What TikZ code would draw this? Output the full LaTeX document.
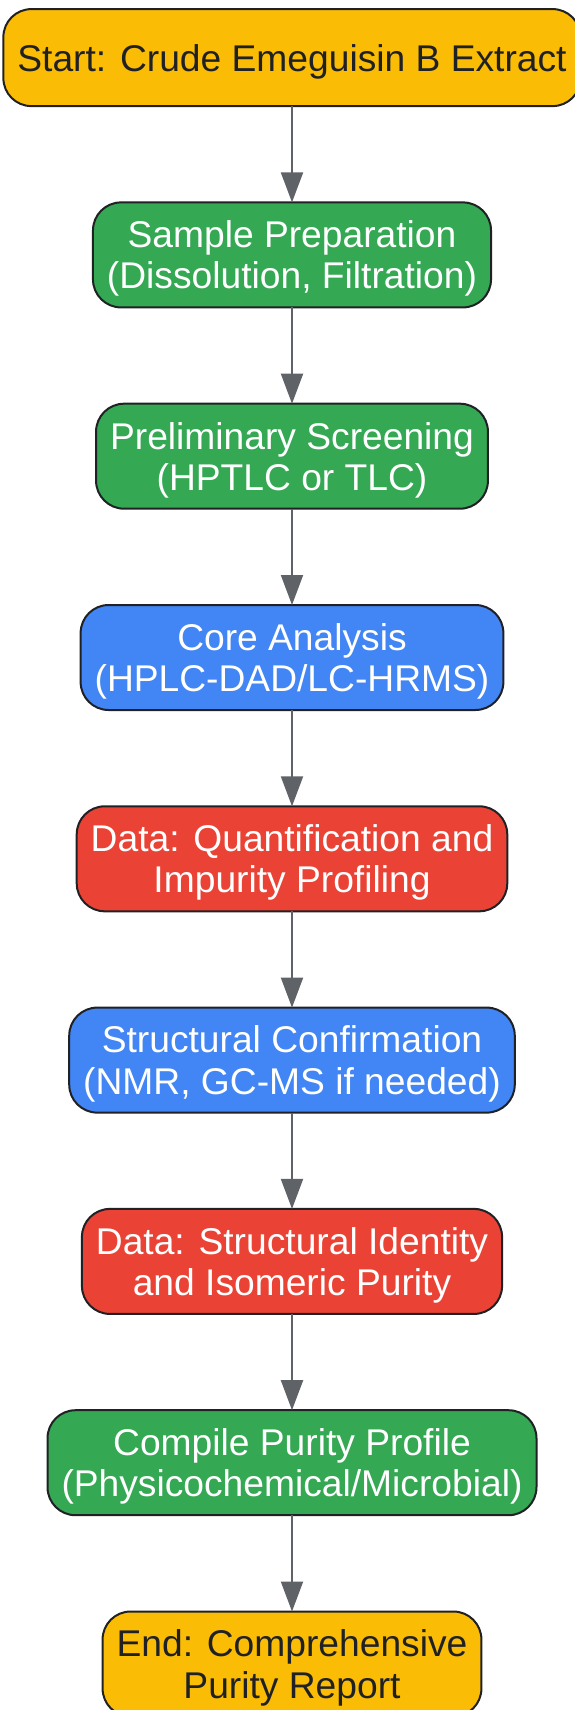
\documentclass[tikz,border=0pt]{standalone}
\usepackage{fontspec}
\setmainfont{Liberation Sans}
\usetikzlibrary{positioning}
\usetikzlibrary{arrows.meta}
\definecolor{termyellow}{HTML}{FBBC05}
\definecolor{prepgreen}{HTML}{34A853}
\definecolor{coreblue}{HTML}{4285F4}
\definecolor{datared}{HTML}{EA4335}
\definecolor{edgedark}{HTML}{202124}
\definecolor{arrowgray}{HTML}{5F6368}
\tikzset{
  stepbox/.style={draw=edgedark, line width=2pt, rounded corners=28pt, align=center,
    inner xsep=14pt, inner ysep=8pt, outer sep=0pt, minimum height=105pt, text depth=0pt,
    font=\fontsize{37.2}{41.2}\selectfont},
  termbox/.style={stepbox, fill=termyellow, text=edgedark},
  greenbox/.style={stepbox, fill=prepgreen, text=white},
  bluebox/.style={stepbox, fill=coreblue, text=white},
  redbox/.style={stepbox, fill=datared, text=white},
  flow/.style={draw=arrowgray, line width=2pt, -{Triangle[width=22pt,length=30pt]}}
}

\begin{document}
\begin{tikzpicture}[node distance=96.3pt]
        \useasboundingbox (0,0) rectangle (575pt,-1710pt);
        %workflow boxes
        \node[termbox, minimum height=97pt] (start) at (292pt,-57.6pt) {Start: Crude Emeguisin B Extract};
        \node[greenbox, below=of start] (prep) {Sample Preparation\\(Dissolution, Filtration)};
        \node[greenbox, below=of prep] (screen) {Preliminary Screening\\(HPTLC or TLC)};
        \node[bluebox, below=of screen] (core) {Core Analysis\\(HPLC-DAD/LC-HRMS)};
        \node[redbox, below=of core] (quant) {Data: Quantification and\\Impurity Profiling};
        \node[bluebox, below=of quant] (struct) {Structural Confirmation\\(NMR, GC-MS if needed)};
        \node[redbox, below=of struct] (ident) {Data: Structural Identity\\and Isomeric Purity};
        \node[greenbox, below=of ident] (compile) {Compile Purity Profile\\(Physicochemical/Microbial)};
        \node[termbox, below=of compile] (report) {End: Comprehensive\\Purity Report};

        %arrows
        \foreach \from/\to in {start/prep, prep/screen, screen/core, core/quant, quant/struct, struct/ident, ident/compile, compile/report}
            \draw[flow] (\from) -- (\to);
    \end{tikzpicture}
\end{document}
